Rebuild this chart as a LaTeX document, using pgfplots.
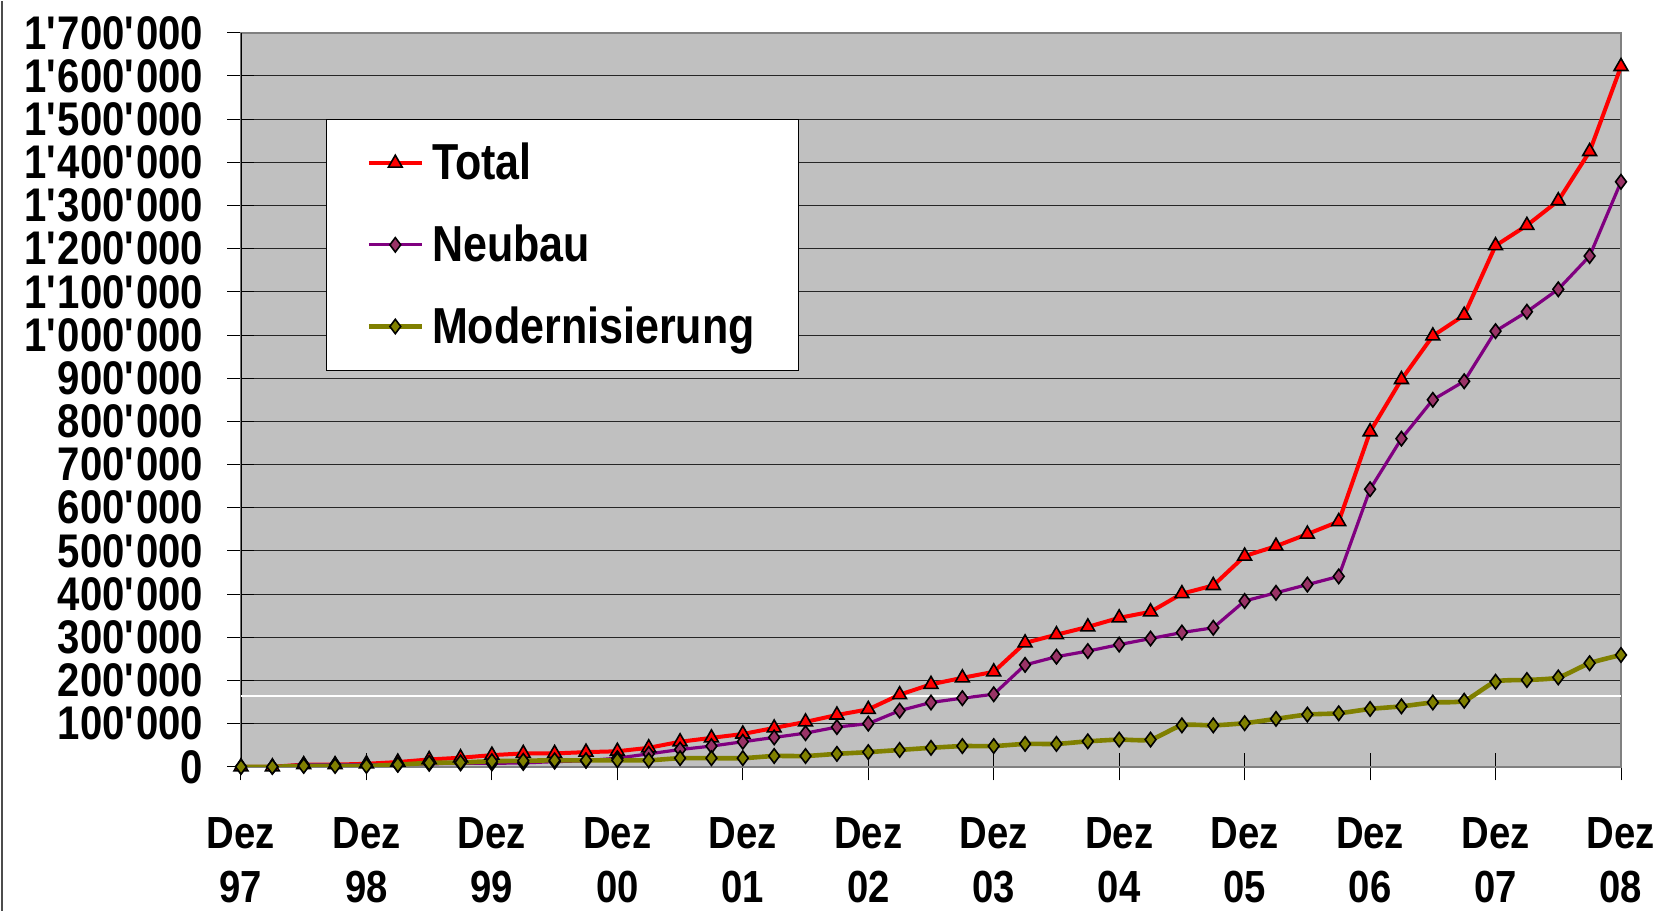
\documentclass[border=0pt]{standalone}
\usepackage{fontspec}
\setmainfont{Liberation Sans}[FakeStretch=0.85]
\usepackage{pgfplots}
\pgfplotsset{compat=1.18}
\definecolor{bg}{HTML}{C0C0C0}
\definecolor{tot}{HTML}{FF0000}
\definecolor{neu}{HTML}{800080}
\definecolor{neufill}{HTML}{993366}
\definecolor{modc}{HTML}{808000}
\definecolor{framec}{HTML}{808080}
\begin{document}
\begin{tikzpicture}
\path (-120.5pt,-72pt) rectangle (710.5pt,383pt);
\draw[black!70, line width=0.8pt] (-119.4pt,-72pt) -- (-119.4pt,383pt);
\begin{axis}[
  at={(0,0)}, anchor=south west, scale only axis,
  width=690pt, height=367pt,
  xmin=0, xmax=44, ymin=0, ymax=1700000,
  axis background/.style={fill=bg},
  axis line style={draw=framec, line width=1pt},
  xtick={0,4,...,44},
  xticklabels={{Dez\\97},{Dez\\98},{Dez\\99},{Dez\\00},{Dez\\01},{Dez\\02},{Dez\\03},{Dez\\04},{Dez\\05},{Dez\\06},{Dez\\07},{Dez\\08}},
  ytick={0,100000,...,1700000},
  tick pos=left,
  scaled y ticks=false,
  yticklabel={\pgfmathprintnumber[fixed,precision=0,1000 sep={\textquotesingle},assume math mode=true]{\tick}},
  yticklabel style={font=\bfseries\fontsize{23.6}{28}\selectfont, anchor=east, inner sep=0pt, xshift=-12pt},
  xticklabel style={font=\bfseries\fontsize{22.5}{26.8}\selectfont, align=center, anchor=north, inner sep=0pt, yshift=-18.5pt},
  major tick length=13.5pt, tick align=center,
  tick style={black, line width=0.5pt},
  ymajorgrids, grid style={black!85, line width=0.5pt},
  legend style={at={(0.0616,0.8828)}, anchor=north west, draw=black, line width=0.5pt, fill=white,
    inner xsep=20pt, inner ysep=10pt, row sep=17pt, column sep=2pt,
    font=\bfseries\fontsize{25.3}{30}\selectfont},
  legend cell align=left,
  legend image code/.code={\draw[mark repeat=2,mark phase=2,#1] plot coordinates {(0pt,0pt)(13.25pt,0pt)(26.5pt,0pt)};},
]
\draw[black, line width=0.6pt] (rel axis cs:0,0) -- (rel axis cs:0,1);
\addplot[white, line width=0.6pt, forget plot] coordinates {(0,164000) (44,164000)};
\addplot[tot, line width=2pt, mark=triangle*, mark size=4pt, mark options={fill=tot, draw=black, line width=0.8pt}] coordinates {
(0,0) (1,0) (2,5000) (3,5000) (4,7000) (5,11000) (6,17000) (7,21000) (8,27000) (9,31000)
(10,31000) (11,34000) (12,36000) (13,44000) (14,58000) (15,67000) (16,76000) (17,90000) (18,104000) (19,120000)
(20,133000) (21,167000) (22,191000) (23,206000) (24,220000) (25,287000) (26,306000) (27,324000) (28,345000) (29,359000)
(30,401000) (31,420000) (32,488000) (33,511000) (34,539000) (35,568000) (36,776000) (37,897000) (38,998000) (39,1046000)
(40,1207000) (41,1254000) (42,1311000) (43,1425000) (44,1622000)};
\addlegendentry{Total}
\addplot[neu, line width=1.6pt, mark=diamond*, mark size=3.6pt, mark options={fill=neufill, draw=black, line width=0.8pt}] coordinates {
(0,0) (1,0) (2,5000) (3,5000) (4,5000) (5,5000) (6,7000) (7,8000) (8,8000) (9,9000)
(10,12000) (11,14000) (12,20000) (13,30000) (14,40000) (15,48000) (16,58000) (17,68000) (18,78000) (19,92000)
(20,100000) (21,130000) (22,149000) (23,159000) (24,168000) (25,236000) (26,255000) (27,268000) (28,283000) (29,297000)
(30,311000) (31,322000) (32,384000) (33,403000) (34,422000) (35,441000) (36,643000) (37,760000) (38,850000) (39,893000)
(40,1009000) (41,1054000) (42,1106000) (43,1183000) (44,1355000)};
\addlegendentry{Neubau}
\addplot[modc, line width=2.3pt, smooth, tension=0.4, mark=diamond*, mark size=3.6pt, mark options={fill=modc, draw=black, line width=0.8pt}] coordinates {
(0,0) (1,0) (2,2000) (3,2000) (4,2000) (5,5000) (6,9000) (7,10000) (8,13000) (9,14000)
(10,15000) (11,15000) (12,15000) (13,15000) (14,20000) (15,20000) (16,20000) (17,25000) (18,25000) (19,30000)
(20,34000) (21,39000) (22,44000) (23,48000) (24,48000) (25,53000) (26,53000) (27,59000) (28,63000) (29,63000)
(30,96000) (31,96000) (32,101000) (33,111000) (34,121000) (35,124000) (36,134000) (37,140000) (38,149000) (39,153000)
(40,197000) (41,201000) (42,207000) (43,240000) (44,259000)};
\addlegendentry{Modernisierung}
\end{axis}
\end{tikzpicture}
\end{document}
